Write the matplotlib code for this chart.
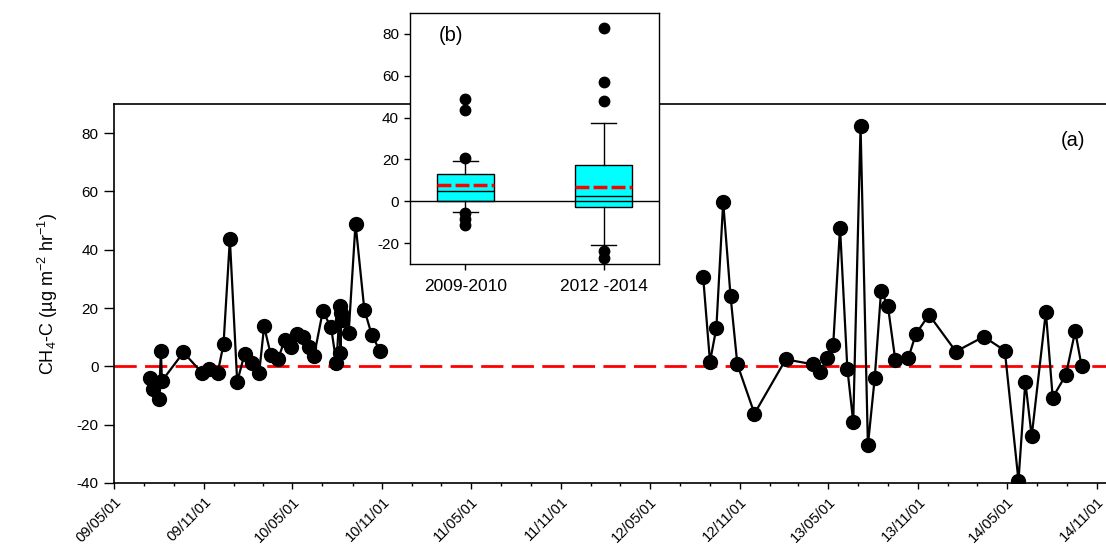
import matplotlib
matplotlib.use("Agg")
import matplotlib.pyplot as plt
import matplotlib.dates as mdates
import numpy as np
import pandas as pd

plt.rcParams['font.family'] = ['Liberation Sans', 'DejaVu Sans']
plt.rcParams['mathtext.fontset'] = 'custom'
plt.rcParams['mathtext.rm'] = 'Liberation Sans'
plt.rcParams['mathtext.it'] = 'Liberation Sans:italic'
plt.rcParams['axes.unicode_minus'] = False

# CH4-C flux, first campaign (2009-2010)
dates_0910 = ['2009-07-13', '2009-07-20', '2009-08-01', '2009-08-05', '2009-08-07',
              '2009-09-20', '2009-10-29', '2009-11-12', '2009-11-29', '2009-12-11',
              '2009-12-24', '2010-01-08', '2010-01-23', '2010-02-07', '2010-02-22',
              '2010-03-04', '2010-03-18', '2010-04-02', '2010-04-15', '2010-04-29',
              '2010-05-11', '2010-05-22', '2010-06-03', '2010-06-14', '2010-07-02',
              '2010-07-19', '2010-07-30', '2010-08-06', '2010-08-07', '2010-08-09',
              '2010-08-11', '2010-08-24', '2010-09-07', '2010-09-25', '2010-10-10',
              '2010-10-27']
flux_0910 = [-4.1, -7.9, -11.1, 5.2, -5.0,
             4.8, -2.4, -1.0, -2.3, 7.6,
             43.6, -5.3, 4.2, 1.0, -2.1,
             13.7, 3.8, 2.6, 9.1, 6.8,
             11.0, 10.0, 6.8, 3.4, 18.9,
             13.4, 1.0, 20.8, 4.5, 18.3,
             16.0, 11.6, 49.0, 19.5, 10.9,
             5.3]

# CH4-C flux, second campaign (2012-2014)
dates_1214 = ['2012-08-18', '2012-09-01', '2012-09-14', '2012-09-28', '2012-10-13',
              '2012-10-27', '2012-12-01', '2013-02-03', '2013-03-31', '2013-04-14',
              '2013-04-28', '2013-05-11', '2013-05-25', '2013-06-09', '2013-06-21',
              '2013-07-06', '2013-07-21', '2013-08-04', '2013-08-17', '2013-08-31',
              '2013-09-15', '2013-10-12', '2013-10-27', '2013-11-23', '2014-01-17',
              '2014-03-15', '2014-04-27', '2014-05-25', '2014-06-08', '2014-06-21',
              '2014-07-20', '2014-08-03', '2014-08-30', '2014-09-18', '2014-10-01']
flux_1214 = [30.7, 1.6, 13.1, 56.4, 24.2,
             0.7, -16.2, 2.4, 0.7, -1.9,
             2.8, 7.3, 47.6, -0.8, -19.1,
             82.3, -27.1, -3.9, 26.0, 20.6,
             2.2, 3.0, 11.1, 17.7, 5.1,
             10.2, 5.4, -39.2, -5.3, -24.0,
             18.7, -10.7, -2.9, 12.1, 0.2]

# Box-plot summaries per period
box_labels = ['2009-2010', '2012 -2014']
box_whislo = [-5.0, -21.1]
box_q1 = [0.3, -2.7]
box_med = [5.0, 2.4]
box_q3 = [13.0, 17.4]
box_whishi = [19.4, 37.4]
box_mean = [7.8, 6.9]
box_fliers = [[49.0, 43.6, 20.8, -5.8, -8.3, -11.5],
              [82.6, 57.0, 47.8, -23.8, -27.2]]

W, H = 1106, 557
fig = plt.figure(figsize=(W / 100, H / 100), dpi=100)

# ---- main time series (a) ----
ax = fig.add_axes([114 / W, (H - 483) / H, 1 - 114 / W, (483 - 104) / H])
ax.axhline(0, color='#ff0000', lw=2.0, dashes=(8, 3), zorder=1)
for d, v in [(dates_0910, flux_0910), (dates_1214, flux_1214)]:
    ax.plot(pd.to_datetime(d), v, color='black', lw=1.6, marker='o',
            markersize=10, markerfacecolor='black', markeredgecolor='black',
            zorder=3)

ax.set_xlim(pd.Timestamp('2009-05-01'), pd.Timestamp('2014-11-20'))
ax.set_ylim(-40, 90)
ax.set_yticks(np.arange(-40, 81, 20))
ax.xaxis.set_major_locator(mdates.MonthLocator(bymonth=[5, 11], bymonthday=1))
ax.xaxis.set_minor_locator(mdates.MonthLocator(bymonth=[1, 3, 7, 9], bymonthday=1))
ax.xaxis.set_major_formatter(mdates.DateFormatter('%y/%m/%d'))
ax.tick_params(axis='y', direction='out', length=7, width=1.0, labelsize=11, pad=4)
ax.tick_params(axis='x', which='major', direction='out', length=4.5, width=1.0,
               labelsize=10.5, pad=4)
ax.tick_params(axis='x', which='minor', direction='out', length=2.5, width=1.0)
for lab in ax.get_xticklabels():
    lab.set_rotation(45)
    lab.set_ha('right')
    lab.set_rotation_mode('anchor')
ax.spines['right'].set_visible(False)
for s in ['left', 'top', 'bottom']:
    ax.spines[s].set_linewidth(1.2)
ax.set_ylabel('CH$_4$-C (µg m$^{-2}$ hr$^{-1}$)', fontsize=13, labelpad=12)
ax.text(0.967, 0.905, '(a)', transform=ax.transAxes, fontsize=14.5,
        ha='center', va='center')

# ---- inset box plot (b) ----
axb = fig.add_axes([410 / W, (H - 264) / H, 249 / W, 251 / H])
axb.set_facecolor('white')
stats = []
for i in range(len(box_labels)):
    stats.append(dict(label=box_labels[i], whislo=box_whislo[i], q1=box_q1[i],
                      med=box_med[i], q3=box_q3[i], whishi=box_whishi[i],
                      mean=box_mean[i], fliers=box_fliers[i]))
axb.bxp(stats, positions=[1, 2], widths=0.41, patch_artist=True,
        showmeans=True, meanline=True, capwidths=0.18,
        boxprops=dict(facecolor='#00ffff', edgecolor='black', linewidth=1.0),
        medianprops=dict(color='black', linewidth=1.0),
        meanprops=dict(color='#ff0000', linewidth=2.5, linestyle=(0, (4, 1.2))),
        whiskerprops=dict(color='black', linewidth=1.0),
        capprops=dict(color='black', linewidth=1.0),
        flierprops=dict(marker='o', markersize=7.5, markerfacecolor='black',
                        markeredgecolor='black'))
axb.axhline(0, color='black', lw=1.0, zorder=5)
axb.set_xlim(0.6, 2.4)
axb.set_ylim(-30, 90)
axb.set_yticks(np.arange(-20, 81, 20))
axb.tick_params(axis='y', direction='out', length=4.5, width=1.0, labelsize=11)
axb.tick_params(axis='x', direction='out', length=4.5, width=1.0, labelsize=12.5, pad=6)
for s in axb.spines.values():
    s.set_linewidth(1.0)
axb.text(0.165, 0.91, '(b)', transform=axb.transAxes, fontsize=14.5,
         ha='center', va='center')

fig.savefig('out.png', dpi=100)
